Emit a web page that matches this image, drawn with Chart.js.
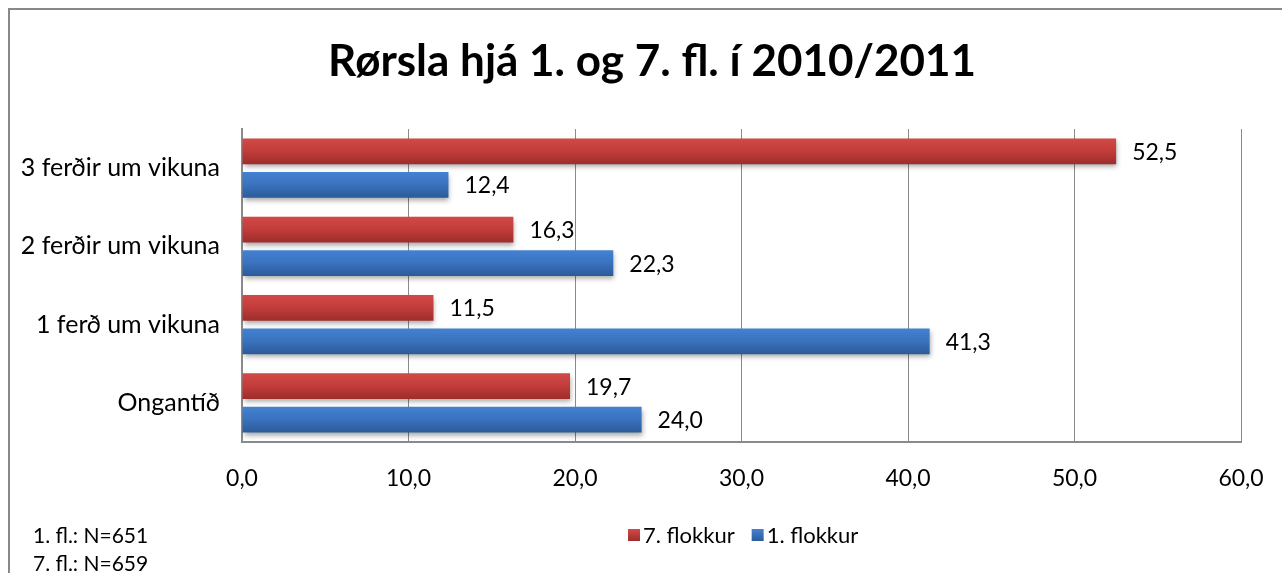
<!DOCTYPE html>
<html>
<head>
<meta charset="utf-8">
<script src="https://cdn.jsdelivr.net/npm/chart.js@4.4.1/dist/chart.umd.min.js"></script>
<style>
html,body{margin:0;padding:0;background:#fff;overflow:hidden;}
#wrap{position:absolute;left:0;top:0;width:1282px;height:573px;}
</style>
</head>
<body>
<div id="wrap"><canvas id="c" width="1282" height="573"></canvas></div>
<script>
const categories = ['3 ferðir um vikuna', '2 ferðir um vikuna', '1 ferð um vikuna', 'Ongantíð'];
const seriesNames = ['7. flokkur', '1. flokkur'];
const values7 = [52.5, 16.3, 11.5, 19.7];
const values1 = [12.4, 22.3, 41.3, 24.0];
const xTickValues = [0, 10, 20, 30, 40, 50, 60];
const titleText = 'Rørsla hjá 1. og 7. fl. í 2010/2011';
const noteLines = ['1. fl.: N=651', '7. fl.: N=659'];

const palette = [
  {top: '#d24a47', mid: '#c13c3a', bottom: '#9c2d2b', solid: '#be3b39'},
  {top: '#4382d2', mid: '#3a72be', bottom: '#2b5a98', solid: '#3a70bb'}
];
const FONT = 'Lato, Carlito, "Open Sans", sans-serif';
const fmt = v => v.toFixed(1).replace('.', ',');

const decor = {
  id: 'decor',
  beforeDraw(chart) {
    const ctx = chart.ctx;
    ctx.save();
    ctx.fillStyle = '#fff';
    ctx.fillRect(0, 0, chart.width, chart.height);
    ctx.strokeStyle = '#888888';
    ctx.lineWidth = 2;
    ctx.strokeRect(9, 9, 1400, 700);
    ctx.restore();
  },
  beforeDatasetsDraw(chart) {
    chart.data.datasets.forEach((ds, di) => {
      const meta = chart.getDatasetMeta(di);
      const p = palette[di];
      meta.data.forEach(el => {
        const h = el.height;
        const y0 = el.y - h / 2;
        const g = chart.ctx.createLinearGradient(0, y0, 0, y0 + h);
        g.addColorStop(0, p.top);
        g.addColorStop(0.5, p.mid);
        g.addColorStop(1, p.bottom);
        el.options = Object.assign({}, el.options, {backgroundColor: g});
      });
    });
    const ctx = chart.ctx;
    ctx.save();
    ctx.shadowColor = 'rgba(0,0,0,0.35)';
    ctx.shadowBlur = 5;
    ctx.shadowOffsetX = 1;
    ctx.shadowOffsetY = 3;
  },
  afterDatasetsDraw(chart) {
    const ctx = chart.ctx;
    ctx.restore();
    ctx.save();
    ctx.font = '23px ' + FONT;
    ctx.fillStyle = '#000';
    ctx.textBaseline = 'middle';
    ctx.textAlign = 'left';
    chart.data.datasets.forEach((ds, di) => {
      const meta = chart.getDatasetMeta(di);
      meta.data.forEach((el, i) => {
        ctx.fillText(fmt(ds.data[i]), el.x + 16, el.y + 1);
      });
    });
    ctx.restore();
  },
  afterDraw(chart) {
    const ctx = chart.ctx;
    ctx.save();
    ctx.fillStyle = '#000';
    ctx.font = 'bold 44px ' + FONT;
    ctx.textAlign = 'center';
    ctx.textBaseline = 'middle';
    ctx.fillText(titleText, 652, 62);
    // legend
    ctx.font = '22px ' + FONT;
    ctx.textAlign = 'left';
    let x = 628;
    chart.data.datasets.forEach((ds, di) => {
      const p = palette[di];
      const g = ctx.createLinearGradient(0, 529, 0, 541);
      g.addColorStop(0, p.top); g.addColorStop(1, p.bottom);
      ctx.fillStyle = g;
      ctx.fillRect(x, 529, 12, 12);
      ctx.fillStyle = '#000';
      ctx.fillText(ds.label, x + 15, 536);
      x += 15 + ctx.measureText(ds.label).width + 17;
    });
    // notes
    ctx.font = '21px ' + FONT;
    noteLines.forEach((t, i) => ctx.fillText(t, 33, 536 + i * 28));
    ctx.restore();
  }
};

new Chart(document.getElementById('c'), {
  type: 'bar',
  data: {
    labels: categories,
    datasets: [
      {label: seriesNames[0], data: values7, backgroundColor: palette[0].solid, borderWidth: 0},
      {label: seriesNames[1], data: values1, backgroundColor: palette[1].solid, borderWidth: 0}
    ]
  },
  options: {
    indexAxis: 'y',
    responsive: false,
    animation: false,
    categoryPercentage: 0.856,
    barPercentage: 0.776,
    layout: {padding: {top: 129, right: 41, bottom: 71, left: 0}},
    plugins: {legend: {display: false}, title: {display: false}, tooltip: {enabled: false}},
    scales: {
      x: {
        min: 0, max: 60,
        afterBuildTicks: s => { s.ticks = xTickValues.map(v => ({value: v})); },
        afterFit: s => { s.height = 60; s.paddingLeft = 0; s.paddingRight = 0; },
        grid: {color: '#8a8a8a', lineWidth: 1, drawTicks: false},
        border: {color: '#8a8a8a', width: 2},
        ticks: {padding: 23, color: '#000', font: {family: FONT, size: 23}, callback: v => fmt(v)}
      },
      y: {
        afterFit: s => { s.width = 242; s.paddingTop = 0; s.paddingBottom = 0; },
        grid: {display: false, drawTicks: false},
        border: {color: '#8a8a8a', width: 2},
        ticks: {padding: 22, color: '#000', font: {family: FONT, size: 25}}
      }
    }
  },
  plugins: [decor]
});
</script>
</body>
</html>
